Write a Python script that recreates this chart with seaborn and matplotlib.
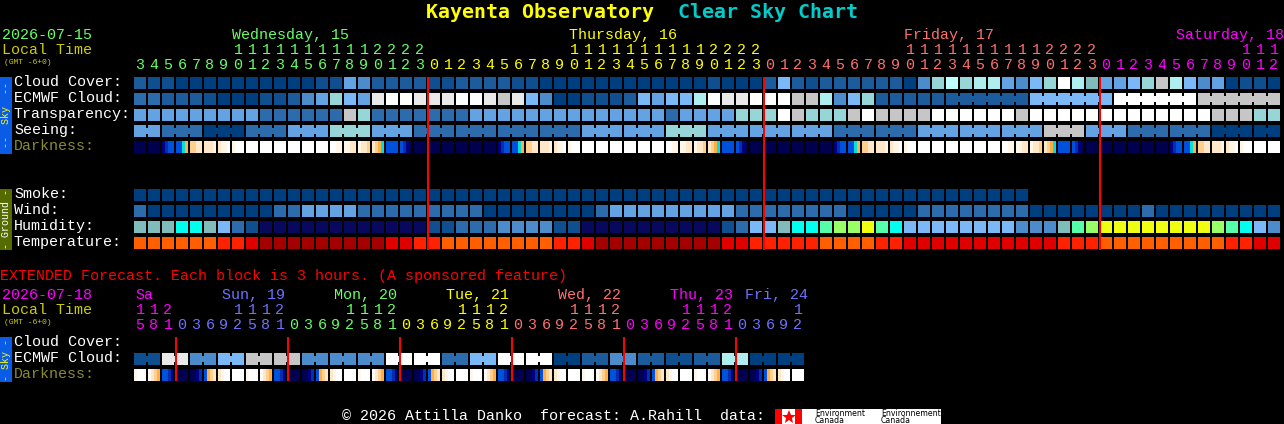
import matplotlib
matplotlib.use('Agg')
import matplotlib.pyplot as plt
import seaborn as sns
import numpy as np
from matplotlib.colors import ListedColormap

W, H = 1284, 424

# block colours, one letter per level
palette = {
    'a': '#003f7f', 'b': '#0f4f8f', 'c': '#1c5c9c', 'd': '#2c6cac', 'e': '#4c8ccc',
    'f': '#63a3e3', 'g': '#7ab8f8', 'h': '#96d6d6', 'i': '#aeeeee', 'n': '#bfffff',
    'j': '#ffffff', 'k': '#e9e9e9', 'l': '#c6c6c6', 'm': '#80bcbc', 'v': '#08085e',
    'C': '#00ffee', 'S': '#55ffaa', 'L': '#99ff66', 'Y': '#eeff11',
    'O': '#ff5f00', 'R': '#ff2200', 'D': '#e00000', 'K': '#a50000',
}
dark_palette = {
    '0': '#000050', '1': '#000080', '2': '#0030b0', '3': '#0050dd', 'c': '#00e0e0',
    'o': '#ffb040', 'p': '#ffcf90', 'q': '#ffe8c8', 'r': '#fff6ea', 'w': '#ffffff',
}

# main forecast, split by day: Wed, Thu, Fri, Sat
cloud = "cbbaaaaaaaaaabbfecccc" "bbccccbbaaaaaaaaaaaabaaa" "cgcbccccccaehnhiifeghjim" "ffghligefabba"
ecmwf = "ddcccbaaabbcefhgfkjjk" "kkjjklkgeaabbbcgfggijkkj" "jjllieghcccccccccccggggg" "gjjjjjjllllll"
ecmwf_blocks = [1] * 58 + [6, 6, 6, 6]
transparency = "fffffffffddddddlhdddd" "dddffffffffffffffdffffhh" "hjlhhhljlllljjjjjjljjjjj" "jjjjjjjjlllhh"
seeing_blocks = [2] + [3] * 26 + [2]
seeing_values = "fdadfhfd" "dddffhfffd" "dfffl" "fddaa"
smoke = "a" * 64
wind = "daaaaaaaaaddffffddddd" "ddddaaaaaaaadfffffffffdd" "ddddddaaaaaddddddddaaaaa" "aaadaaaaaaaaa"
humidity = "mmmCCmgdbvvvvvvvvvvvv" "bbdddeeeebbvvvvvvvvvvbdg" "gmCCSLLYSCggggggggeeemSL" "YYYYYYYYLSCge"
temperature = "OOOOOORRDKKKKKKKKKDDR" "ROOOOOOOORRDKKKKKKKKKDDR" "RRRROOOORRDDDDDDDDDDDRRR" "OOOOOOOOORRDD"

# darkness, four samples per block
darkness = (
    "0000 0000 1233 33co ppqq qqqr qrrw rwww wwww wwww wwww wwww wwww wwww wwrr rrqq rqqp qpoc 3333 3210 0000 "
    "0000 0000 0000 0000 0000 1233 33co ppqq qqqr qrrw rwww wwww wwww wwww wwww wwww wwww wwrr rrqq rqqp qpoc 3333 3210 0000 "
    "0000 0000 0000 0000 0000 1233 33co ppqq qqqr qrrw rwww wwww wwww wwww wwww wwww wwww wwrr rrqq rqqp qpoc 3333 3210 0000 "
    "0000 0000 0000 0000 0000 1233 33co ppqq qqqr qrrw rwww wwww wwww"
)

hours_wed = [3, 4, 5, 6, 7, 8, 9, 10, 11, 12, 13, 14, 15, 16, 17, 18, 19, 20, 21, 22, 23]
hours_full = [0, 1, 2, 3, 4, 5, 6, 7, 8, 9, 10, 11, 12, 13, 14, 15, 16, 17, 18, 19, 20, 21, 22, 23]
hours_sat = [0, 1, 2, 3, 4, 5, 6, 7, 8, 9, 10, 11, 12]
main_hours = [hours_wed, hours_full, hours_full, hours_sat]
main_colors = ['#66ff66', '#ffff00', '#ff7070', '#ff00ff']
main_days = ['Wednesday, 15', 'Thursday, 16', 'Friday, 17', 'Saturday, 18']

# extended forecast
ext_ecmwf_blocks = [2] * 24
ext_ecmwf_values = "bkeglleeejjdgjjacecbciaa"
ext_darkness = (
    "rwww wqpo 3321 0000 0012 3opq qrww wwww "
    "rwww wqpo 3321 0000 0012 3opq qrww wwww "
    "rwww wqpo 3321 0000 0012 3opq qrww wwww "
    "rwww wqpo 3321 0000 0012 3opq qrww wwww "
    "rwww wqpo 3321 0000 0012 3opq qrww wwww "
    "rwww wqpo 3321 0000 0012 3opq qrww wwww"
)
hours_3h = [0, 3, 6, 9, 12, 15, 18, 21]
ext_hours = [[15, 18, 21], hours_3h, hours_3h, hours_3h, hours_3h, hours_3h, [0, 3, 6, 9, 12]]
ext_colors = ['#ff00ff', '#7070ff', '#66ff66', '#ffff00', '#ff7070', '#ff00ff', '#7070ff']
ext_days = ['Sa', 'Sun, 19', 'Mon, 20', 'Tue, 21', 'Wed, 22', 'Thu, 23', 'Fri, 24']

X0 = 134
STEP = 14
CELL = 12
ROW_Y = {'cloud': 77, 'ecmwf': 93, 'trans': 109, 'seeing': 125, 'dark': 141,
         'smoke': 189, 'wind': 205, 'hum': 221, 'temp': 237,
         'x_ecmwf': 353, 'x_dark': 369}

sns.set_style('dark')
plt.rcParams['font.family'] = ['Liberation Mono', 'DejaVu Sans Mono']

fig = plt.figure(figsize=(W / 100, H / 100), dpi=100, facecolor='black')

keys = list(palette)
cmap = ListedColormap([palette[k] for k in keys])
dark_keys = list(dark_palette)
dark_cmap = ListedColormap([dark_palette[k] for k in dark_keys])


def expand(blocks, values):
    return ''.join(v * n for n, v in zip(blocks, values))


def draw_matrix(y0, mat, ncols, colormap, nlevels):
    # one heatmap column per screen pixel so the black gaps stay exact
    ax = fig.add_axes([X0 / W, 1 - (y0 + CELL) / H, ncols * STEP / W, CELL / H])
    sns.heatmap(mat, ax=ax, cmap=colormap, vmin=0, vmax=nlevels - 1, cbar=False,
                xticklabels=False, yticklabels=False)
    ax.set_facecolor('black')
    return ax


def draw_row(y0, letters, ncols=82, blocks=None):
    mat = np.full((CELL, ncols * STEP), np.nan)
    for i, c in enumerate(letters):
        mat[:, i * STEP:i * STEP + CELL] = keys.index(c)
    if blocks:
        # blocks of one forecast step are joined by a narrower bridge
        start = 0
        for n in blocks:
            for i in range(start, start + n - 1):
                mat[3:9, i * STEP + CELL:(i + 1) * STEP] = keys.index(letters[start])
            start += n
    return draw_matrix(y0, mat, ncols, cmap, len(keys))


def draw_dark(y0, samples, ncols=82):
    samples = samples.replace(' ', '')
    mat = np.full((CELL, ncols * STEP), np.nan)
    for i in range(ncols):
        codes = [dark_keys.index(c) for c in samples[i * 4:i * 4 + 4]]
        mat[:, i * STEP:i * STEP + CELL] = np.repeat(codes, 3)
    return draw_matrix(y0, mat, ncols, dark_cmap, len(dark_keys))


draw_row(ROW_Y['cloud'], cloud)
draw_row(ROW_Y['ecmwf'], ecmwf, blocks=ecmwf_blocks)
draw_row(ROW_Y['trans'], transparency)
draw_row(ROW_Y['seeing'], expand(seeing_blocks, seeing_values), blocks=seeing_blocks)
draw_dark(ROW_Y['dark'], darkness)
draw_row(ROW_Y['smoke'], smoke)
draw_row(ROW_Y['wind'], wind)
draw_row(ROW_Y['hum'], humidity)
draw_row(ROW_Y['temp'], temperature)
draw_row(ROW_Y['x_ecmwf'], expand(ext_ecmwf_blocks, ext_ecmwf_values), ncols=48, blocks=ext_ecmwf_blocks)
draw_dark(ROW_Y['x_dark'], ext_darkness, ncols=48)

# overlay in pixel coordinates for text, red lines and side bars
ov = fig.add_axes([0, 0, 1, 1], zorder=5)
ov.set_xlim(0, W)
ov.set_ylim(H, 0)
ov.axis('off')

FS = 15 * 72 / 100
SIDE = 10 * 72 / 100


def txt(x, y, s, color='white', size=FS, **kw):
    ov.text(x, y, s, color=color, fontsize=size, va='baseline', **kw)


def box(x0, x1, y0, y1, color):
    ov.fill_between([x0, x1], y0, y1, color=color, linewidth=0)


txt(426, 18, 'Kayenta Observatory', '#ffff00', 20 * 72 / 100, fontweight='bold', family='DejaVu Sans Mono')
txt(678, 18, 'Clear Sky Chart', '#00cccc', 20 * 72 / 100, fontweight='bold', family='DejaVu Sans Mono')

txt(2, 39, '2026-07-15', '#66ff66')
txt(2, 54, 'Local Time', '#cccc00')
txt(4, 64, '(GMT -6+0)', '#cccc00', 8 * 72 / 100)

for name, x, col in zip(main_days, [232, 569, 904, 1176], main_colors):
    txt(x, 39, name, col)

i = 0
for hrs, col in zip(main_hours, main_colors):
    for h in hrs:
        cx = X0 + STEP * i + 6
        if h >= 10:
            txt(cx, 54, str(h // 10), col, ha='center')
        txt(cx, 69, str(h % 10), col, ha='center')
        i += 1

labels = ['Cloud Cover:', 'ECMWF Cloud:', 'Transparency:', 'Seeing:']
for lab, key in zip(labels, ['cloud', 'ecmwf', 'trans', 'seeing']):
    txt(14, ROW_Y[key] + 9, lab)
txt(14, ROW_Y['dark'] + 9, 'Darkness:', '#8a8a30')
for lab, key in zip(['Smoke:', 'Wind:', 'Humidity:', 'Temperature:'], ['smoke', 'wind', 'hum', 'temp']):
    txt(14, ROW_Y[key] + 9, lab)

for c in [21, 45, 69]:
    box(X0 + STEP * c - 1, X0 + STEP * c + 1, 77, 250, '#ff0000')

box(0, 12, 77, 154, '#0a5ce6')
ov.text(6, 115, '--  Sky  --', color='#ffff00', fontsize=SIDE, rotation=90, ha='center', va='center')
box(0, 12, 189, 250, '#556b00')
ov.text(6, 219, '- Ground -', color='white', fontsize=SIDE, rotation=90, ha='center', va='center')

# extended part
txt(0, 280, 'EXTENDED Forecast. Each block is 3 hours. (A sponsored feature)', '#ff0000')
txt(2, 299, '2026-07-18', '#ff00ff')
txt(2, 314, 'Local Time', '#cccc00')
txt(4, 324, '(GMT -6+0)', '#cccc00', 8 * 72 / 100)

for name, x, col in zip(ext_days, [135, 222, 334, 446, 558, 670, 745], ext_colors):
    txt(x, 299, name, col)

i = 0
for hrs, col in zip(ext_hours, ext_colors):
    for h in hrs:
        cx = X0 + STEP * i + 6
        if h >= 10:
            txt(cx, 314, str(h // 10), col, ha='center')
        txt(cx, 329, str(h % 10), col, ha='center')
        i += 1

txt(14, 346, 'Cloud Cover:')
txt(14, 362, 'ECMWF Cloud:')
txt(14, 378, 'Darkness:', '#8a8a30')

for k in range(6):
    c = 3 + 8 * k
    box(X0 + STEP * c - 1, X0 + STEP * c + 1, 337, 381, '#ff0000')
box(0, 12, 337, 382, '#0a5ce6')
ov.text(6, 360, '- Sky -', color='#ffff00', fontsize=SIDE, rotation=90, ha='center', va='center')

# footer and logo
txt(342, 420, '\u00a9 2026 Attilla Danko  forecast: A.Rahill  data:')
box(775, 941, 409, 424, 'white')
box(775, 782, 409, 424, '#ff0000')
box(795, 802, 409, 424, '#ff0000')
ov.plot([788.5], [416.5], marker='*', color='#ff0000', markersize=10, markeredgewidth=0)
for x, label in zip([815, 881], ['Environment', 'Environnement']):
    ov.text(x, 416, label, color='black', fontsize=5.6, family='DejaVu Sans', va='baseline')
    ov.text(x, 423, 'Canada', color='black', fontsize=5.6, family='DejaVu Sans', va='baseline')

fig.savefig('out.png', dpi=100, facecolor='black')
